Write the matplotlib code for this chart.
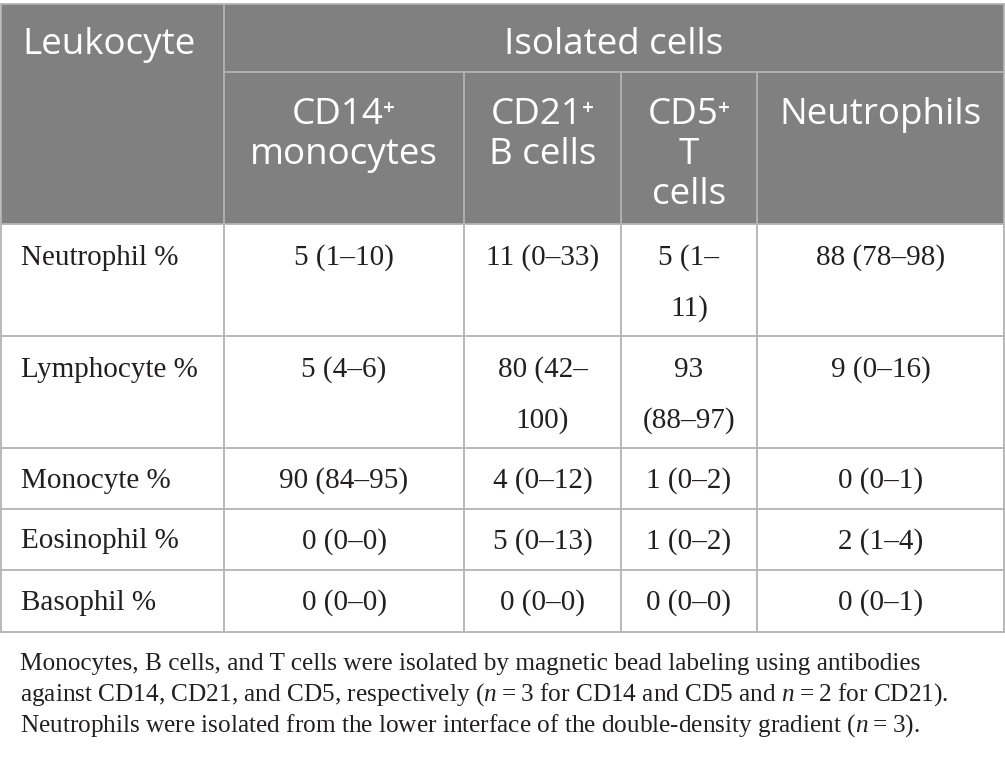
import matplotlib
matplotlib.use('Agg')
from matplotlib import pyplot as plt
from matplotlib.patches import Rectangle

plt.rcParams['mathtext.fontset'] = 'custom'
plt.rcParams['mathtext.rm'] = 'Liberation Serif'
plt.rcParams['mathtext.it'] = 'Liberation Serif:italic'

# table content
corner_label = 'Leukocyte'
group_label = 'Isolated cells'
col_labels = ['CD14⁺\nmonocytes', 'CD21⁺\nB cells', 'CD5⁺\nT\ncells', 'Neutrophils']
row_labels = ['Neutrophil %', 'Lymphocyte %', 'Monocyte %', 'Eosinophil %', 'Basophil %']
cd14_vals = ['5 (1–10)', '5 (4–6)', '90 (84–95)', '0 (0–0)', '0 (0–0)']
cd21_vals = ['11 (0–33)', '80 (42–\n100)', '4 (0–12)', '5 (0–13)', '0 (0–0)']
cd5_vals = ['5 (1–\n11)', '93\n(88–97)', '1 (0–2)', '1 (0–2)', '0 (0–0)']
neut_vals = ['88 (78–98)', '9 (0–16)', '0 (0–1)', '2 (1–4)', '0 (0–1)']
footnote = ['Monocytes, B cells, and T cells were isolated by magnetic bead labeling using antibodies',
            'against CD14, CD21, and CD5, respectively ($n$\u2009=\u20093 for CD14 and CD5 and $n$\u2009=\u20092 for CD21).',
            'Neutrophils were isolated from the lower interface of the double-density gradient ($n$\u2009=\u20093).']

columns = [cd14_vals, cd21_vals, cd5_vals, neut_vals]

# layout in pixels
col_x = [1, 224, 464, 621, 757, 1004]
head_y = [4, 72, 224]
row_y = [224, 336, 448, 509, 570, 632]
head_color = '#808080'
line_color = '#b3b3b3'
text_color = '#231f20'
sans = ['Open Sans', 'DejaVu Sans']
serif = 'Liberation Serif'

fig = plt.figure(figsize=(10.05, 7.59), dpi=100)
ax = fig.add_axes([0, 0, 1, 1])
ax.set_xlim(0, 1005)
ax.set_ylim(759, 0)
ax.axis('off')

# header background
ax.add_patch(Rectangle((col_x[0], head_y[0]), col_x[-1] - col_x[0], head_y[2] - head_y[0],
                       facecolor=head_color, edgecolor='none'))

# grid lines
lw = 1.3
ax.plot([col_x[0], col_x[-1]], [head_y[0], head_y[0]], color=line_color, lw=lw)
ax.plot([col_x[1], col_x[-1]], [head_y[1], head_y[1]], color=line_color, lw=lw)
for y in row_y:
    ax.plot([col_x[0], col_x[-1]], [y, y], color=line_color, lw=lw)
ax.plot([col_x[0], col_x[0]], [head_y[0], row_y[-1]], color=line_color, lw=lw)
ax.plot([col_x[-1], col_x[-1]], [head_y[0], row_y[-1]], color=line_color, lw=lw)
ax.plot([col_x[1], col_x[1]], [head_y[0], row_y[-1]], color=line_color, lw=lw)
for x in col_x[2:-1]:
    ax.plot([x, x], [head_y[1], row_y[-1]], color=line_color, lw=lw)

# header text
hfs = 26.5
line_h = 40
ax.text(22, 45, corner_label, color='white', fontsize=hfs, family=sans, ha='left', va='center')
ax.text((col_x[1] + col_x[-1]) / 2, 45, group_label, color='white', fontsize=hfs, family=sans,
        ha='center', va='center')
for i, lab in enumerate(col_labels):
    cx = (col_x[i + 1] + col_x[i + 2]) / 2
    for k, part in enumerate(lab.split('\n')):
        ax.text(cx, 115 + k * line_h, part, color='white', fontsize=hfs, family=sans,
                ha='center', va='center')

# body text
bfs = 21
bline_h = 51
for r, lab in enumerate(row_labels):
    top = row_y[r]
    nlines = max(len(c[r].split('\n')) for c in columns)
    if nlines > 1:
        y0 = top + 34
    else:
        y0 = (row_y[r] + row_y[r + 1]) / 2 + 2
    ax.text(21, y0, lab, color=text_color, fontsize=bfs, family=serif, ha='left', va='center')
    for i, col in enumerate(columns):
        cx = (col_x[i + 1] + col_x[i + 2]) / 2
        for k, part in enumerate(col[r].split('\n')):
            ax.text(cx, y0 + k * bline_h, part, color=text_color, fontsize=bfs, family=serif,
                    ha='center', va='center')

# footnote
for k, line in enumerate(footnote):
    ax.text(20, 670 + k * 31, line, color=text_color, fontsize=18.2, family=serif,
            ha='left', va='baseline')

fig.savefig('out.png', dpi=100)
